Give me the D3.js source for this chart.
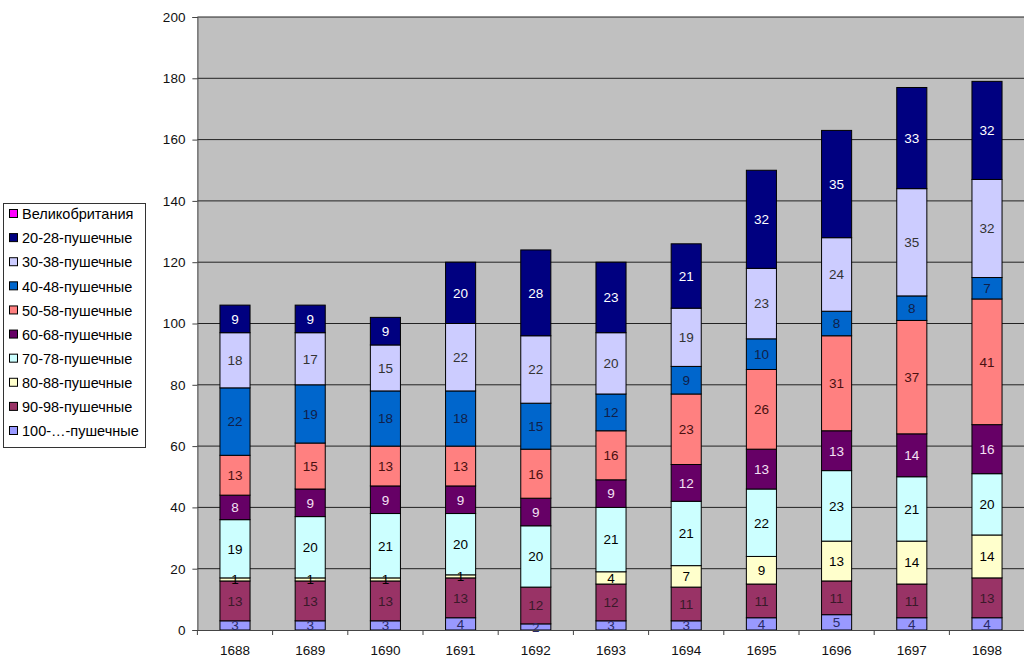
<!DOCTYPE html>
<html><head><meta charset="utf-8">
<script src="https://cdn.jsdelivr.net/npm/d3@7"></script>
<style>body{margin:0;background:#fff}svg{display:block}text{font-family:Arial,"Liberation Sans",sans-serif}</style>
</head><body>
<svg id="c" width="1024" height="666"></svg>
<script>
const years = ["1688","1689","1690","1691","1692","1693","1694","1695","1696","1697","1698"];
// series bottom -> top
const seriesNames = ["100-…-пушечные","90-98-пушечные","80-88-пушечные","70-78-пушечные","60-68-пушечные","50-58-пушечные","40-48-пушечные","30-38-пушечные","20-28-пушечные","Великобритания"];
const s100 = [3,3,3,4,2,3,3,4,5,4,4];
const s90  = [13,13,13,13,12,12,11,11,11,11,13];
const s80  = [1,1,1,1,0,4,7,9,13,14,14];
const s70  = [19,20,21,20,20,21,21,22,23,21,20];
const s60  = [8,9,9,9,9,9,12,13,13,14,16];
const s50  = [13,15,13,13,16,16,23,26,31,37,41];
const s40  = [22,19,18,18,15,12,9,10,8,8,7];
const s30  = [18,17,15,22,22,20,19,23,24,35,32];
const s20  = [9,9,9,20,28,23,21,32,35,33,32];
const sGB  = [0,0,0,0,0,0,0,0,0,0,0];
const yTicks = [0,20,40,60,80,100,120,140,160,180,200];

const seriesValues = [s100,s90,s80,s70,s60,s50,s40,s30,s20,sGB];
const colors = ["#9999FF","#993366","#FFFFCC","#CCFFFF","#660066","#FF8080","#0066CC","#CCCCFF","#000080","#FF00FF"];
const labelColors = ["#2a2a66","#3a1a2a","#000000","#000000","#f4e0f4","#4a1010","#10204a","#333333","#ffffff","#000000"];

const svg = d3.select("#c");
const L = 197.4, R = 1024.6, T = 17, B = 630;
const x = d3.scaleBand().domain(years).range([L, R]).paddingInner(0.6).paddingOuter(0.3);
const xc = d3.scaleBand().domain(years).range([L, R]);
const y = d3.scaleLinear().domain([0,200]).range([B, T]);

svg.append("rect").attr("x",L).attr("y",T).attr("width",R-L).attr("height",B-T).attr("fill","#C0C0C0");
// gridlines
svg.append("g").selectAll("line").data(yTicks.filter(d=>d>0)).join("line")
  .attr("x1",L).attr("x2",R).attr("y1",d=>y(d)).attr("y2",d=>y(d))
  .attr("stroke","#222").attr("stroke-width",1);

// stacked data
const rows = years.map((yr,i)=>{const o={year:yr}; seriesNames.forEach((n,k)=>o[n]=seriesValues[k][i]); return o;});
const stack = d3.stack().keys(seriesNames)(rows);

const g = svg.append("g");
stack.forEach((layer,k)=>{
  g.append("g").selectAll("rect").data(layer.filter(d=>d[1]-d[0]>0)).join("rect")
    .attr("x",d=>x(d.data.year)).attr("width",x.bandwidth())
    .attr("y",d=>y(d[1])).attr("height",d=>y(d[0])-y(d[1]))
    .attr("fill",colors[k]).attr("stroke","#000").attr("stroke-width",1);
});
stack.forEach((layer,k)=>{
  g.append("g").selectAll("text").data(layer.filter(d=>d[1]-d[0]>0)).join("text")
    .attr("x",d=>x(d.data.year)+x.bandwidth()/2)
    .attr("y",d=>(y(d[0])+y(d[1]))/2)
    .attr("dy","0.36em").attr("text-anchor","middle")
    .attr("font-size",13.5).attr("fill",labelColors[k])
    .text(d=>d[1]-d[0]);
});

// y axis
const ya = svg.append("g").attr("transform",`translate(${L},0)`)
  .call(d3.axisLeft(y).tickValues(yTicks).tickSize(5).tickPadding(7));
ya.select(".domain").attr("stroke","#444");
ya.selectAll(".tick line").attr("stroke","#444");
ya.selectAll("text").attr("font-size",13.5).attr("fill","#111").style("font-family","Arial,'Liberation Sans',sans-serif");

// x axis
const xa = svg.append("g").attr("transform",`translate(0,${B})`)
  .call(d3.axisBottom(xc).tickSize(0).tickPadding(15));
xa.select(".domain").attr("stroke","#444");
xa.selectAll("text").attr("font-size",13.5).attr("fill","#111").style("font-family","Arial,'Liberation Sans',sans-serif");
svg.append("g").selectAll("line").data(years).join("line")
  .attr("x1",d=>xc(d)).attr("x2",d=>xc(d)).attr("y1",B).attr("y2",B+5).attr("stroke","#444");

// legend
const lg = svg.append("g");
lg.append("rect").attr("x",3.5).attr("y",203.5).attr("width",142).attr("height",244)
  .attr("fill","#fff").attr("stroke","#333");
const legendOrder = seriesNames.slice().reverse();
const ly = d3.scalePoint().domain(legendOrder).range([214,431]);
legendOrder.forEach(n=>{
  const k = seriesNames.indexOf(n);
  lg.append("rect").attr("x",9.5).attr("y",ly(n)-4.5).attr("width",8).attr("height",8)
    .attr("fill",colors[k]).attr("stroke","#000");
  lg.append("text").attr("x",22).attr("y",ly(n)).attr("dy","0.36em")
    .attr("font-size",14.5).attr("fill","#000").text(n);
});
</script>
</body></html>
